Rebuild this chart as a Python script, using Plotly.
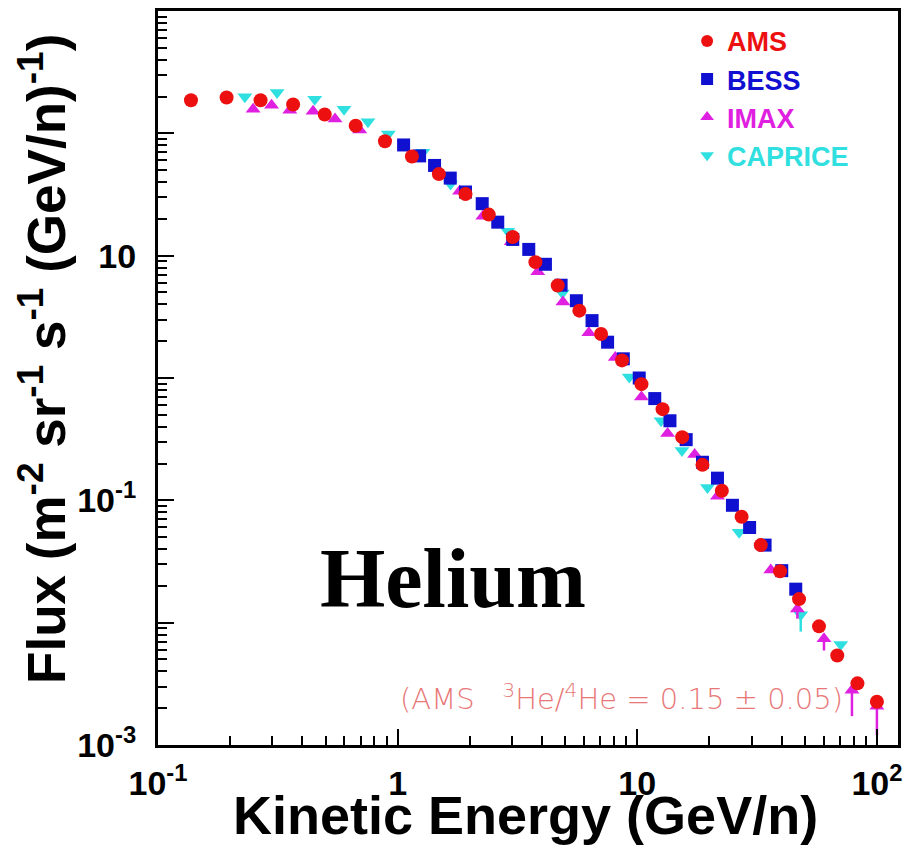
import plotly.graph_objects as go

# ---- data (kinetic energy GeV/n, flux m^-2 sr^-1 s^-1 (GeV/n)^-1) ----
ams_E = [0.1373, 0.1933, 0.2679, 0.3663, 0.4963, 0.6683, 0.8854, 1.147, 1.486, 1.920,
         2.401, 3.023, 3.758, 4.655, 5.732, 7.062, 8.636, 10.41, 12.75, 15.40,
         18.71, 22.54, 27.25, 32.76, 39.43, 47.32, 57.32, 68.32, 82.94, 100.0]
ams_F = [186.6, 196.2, 186.6, 172.1, 142.7, 115.5, 86.1, 64.66, 46.42, 31.92,
         21.67, 14.19, 8.855, 5.704, 3.551, 2.292, 1.393, 0.8906, 0.5565, 0.3284,
         0.1951, 0.1199, 0.07343, 0.04306, 0.02633, 0.01558, 0.00933, 0.005391, 0.003191, 0.002258]

bess_E = [1.059, 1.235, 1.426, 1.658, 1.920, 2.254, 2.617, 3.023, 3.525, 4.138,
          4.810, 5.570, 6.475, 7.519, 8.744, 10.19, 11.83, 13.69, 16.00, 18.71,
          21.61, 24.95, 29.43, 34.15, 40.08, 45.85]
bess_F = [80.35, 65.39, 54.64, 43.06, 33.14, 26.62, 18.79, 13.57, 11.25, 8.501,
          5.734, 4.282, 2.945, 1.962, 1.435, 1.0, 0.6789, 0.4471, 0.3133, 0.2048,
          0.1518, 0.0911, 0.05998, 0.04306, 0.02662, 0.01879]

imax_E = [0.2494, 0.2978, 0.3548, 0.4437, 0.5480, 0.6946, 1.813, 2.267, 2.978, 3.842,
          4.894, 6.279, 8.095, 10.41, 13.38, 17.36, 21.61, 36.07, 46.56, 60.14, 78.68, 100.0]
imax_F = [157.6, 169.9, 154.7, 151.8, 130.7, 106.4, 33.57, 21.03, 13.0, 7.371,
          4.188, 2.344, 1.468, 0.7006, 0.3525, 0.2366, 0.1078, 0.02697, 0.01292, 0.007371, 0.002801, 0.002076]
imax_err_plus = [0] * 21 + [0.00047]
imax_err_minus = [0] * 18 + [0.00214, 0.00145, 0.00108, 0.00087]

caprice_E = [0.2304, 0.3141, 0.4510, 0.5975, 0.7518, 0.9147, 1.275, 1.663, 2.882, 4.870,
             9.261, 12.56, 15.36, 19.63, 26.61, 48.10, 70.62]
caprice_F = [198.8, 215.4, 190.1, 157.6, 124.5, 98.7, 70.07, 38.49, 15.82, 4.956,
             1.019, 0.4471, 0.2550, 0.1275, 0.05493, 0.01161, 0.006624]
caprice_err_minus = [0] * 15 + [0.00316, 0]

x_tickvals = [0.1, 1, 10, 100]
x_ticktext = ['10<sup>-1</sup>', '1', '10', '10<sup>2</sup>']
y_tickvals = [0.001, 0.01, 0.1, 1, 10, 100, 1000]
y_ticktext = ['10<sup>-3</sup>', '', '10<sup>-1</sup>', '', '10', '', '']

C_AMS, C_BESS, C_IMAX, C_CAP = '#ec1010', '#1010d0', '#e020e0', '#30e0e0'

def minor_vals(lo, hi):
    out = []
    for e in range(lo, hi):
        for m in range(2, 10):
            out.append(m * 10 ** e)
    return out

fig = go.Figure()
fig.add_trace(go.Scatter(x=caprice_E, y=caprice_F, mode='markers',
                         name=f'<span style="color:{C_CAP}">CAPRICE</span>',
                         marker=dict(symbol='triangle-down', size=13, color=C_CAP),
                         error_y=dict(type='data', symmetric=False, array=[0]*len(caprice_E),
                                      arrayminus=caprice_err_minus, color=C_CAP, thickness=2.5, width=0),
                         legendrank=4))
fig.add_trace(go.Scatter(x=imax_E, y=imax_F, mode='markers',
                         name=f'<span style="color:{C_IMAX}">IMAX</span>',
                         marker=dict(symbol='triangle-up', size=13, color=C_IMAX),
                         error_y=dict(type='data', symmetric=False, array=imax_err_plus,
                                      arrayminus=imax_err_minus, color=C_IMAX, thickness=2.5, width=0),
                         legendrank=3))
fig.add_trace(go.Scatter(x=bess_E, y=bess_F, mode='markers',
                         name=f'<span style="color:{C_BESS}">BESS</span>',
                         marker=dict(symbol='square', size=13, color=C_BESS),
                         legendrank=2))
fig.add_trace(go.Scatter(x=ams_E, y=ams_F, mode='markers',
                         name=f'<span style="color:{C_AMS}">AMS</span>',
                         marker=dict(symbol='circle', size=14, color=C_AMS),
                         legendrank=1))

sans = 'Liberation Sans, Arial, Helvetica, sans-serif'

fig.update_layout(
    width=921, height=854,
    margin=dict(l=158, r=23, t=8, b=109),
    paper_bgcolor='white', plot_bgcolor='white',
    showlegend=True,
    legend=dict(x=0.715, y=0.992, xanchor='left', yanchor='top',
                bgcolor='rgba(255,255,255,0.9)', borderwidth=0,
                font=dict(family=sans, size=27, weight='bold'),
                itemsizing='constant', tracegroupgap=0),
    xaxis=dict(type='log', range=[-1, 2.088], showgrid=False, zeroline=False,
               showline=True, linecolor='black', linewidth=3, mirror=True,
               ticks='inside', ticklen=16, tickwidth=2, tickcolor='black',
               tickvals=x_tickvals, ticktext=x_ticktext, ticklabelstandoff=6,
               tickfont=dict(family=sans, size=34, color='black', weight='bold'),
               minor=dict(tickvals=minor_vals(-1, 2), ticks='inside', ticklen=9,
                          tickwidth=2, tickcolor='black', showgrid=False)),
    yaxis=dict(type='log', range=[-3, 3], showgrid=False, zeroline=False,
               showline=True, linecolor='black', linewidth=3, mirror=True,
               ticks='inside', ticklen=16, tickwidth=2, tickcolor='black',
               tickvals=y_tickvals, ticktext=y_ticktext, ticklabelstandoff=12,
               tickfont=dict(family=sans, size=34, color='black', weight='bold'),
               minor=dict(tickvals=minor_vals(-3, 3), ticks='inside', ticklen=9,
                          tickwidth=2, tickcolor='black', showgrid=False)),
)

fig.add_annotation(text='Kinetic Energy (GeV/n)', xref='paper', yref='paper',
                   x=0.497, y=0, yshift=-70, xanchor='center', yanchor='middle',
                   showarrow=False,
                   font=dict(family=sans, size=54, color='black', weight='bold'))
fig.add_annotation(text='Flux (m<sup>-2</sup> sr<sup>-1</sup> s<sup>-1</sup> (GeV/n)<sup>-1</sup>)',
                   xref='paper', yref='paper', x=0, xshift=-115, y=0.526,
                   xanchor='center', yanchor='middle', textangle=-90, showarrow=False,
                   font=dict(family=sans, size=53, color='black', weight='bold'))
fig.add_annotation(text='Helium', xref='paper', yref='paper', x=0.3986, y=0.2266,
                   xanchor='center', yanchor='middle', showarrow=False,
                   font=dict(family='Liberation Serif, Times New Roman, serif', size=84,
                             color='black', weight='bold'))
fig.add_annotation(text='(AMS   <sup>3</sup>He/<sup>4</sup>He = 0.15 ± 0.05)',
                   xref='paper', yref='paper', x=0.3243, y=0.0651,
                   xanchor='left', yanchor='middle', showarrow=False,
                   font=dict(family='DejaVu Sans, sans-serif', size=29, color='#e87878',
                             weight=200))

fig.write_html('out.html')
